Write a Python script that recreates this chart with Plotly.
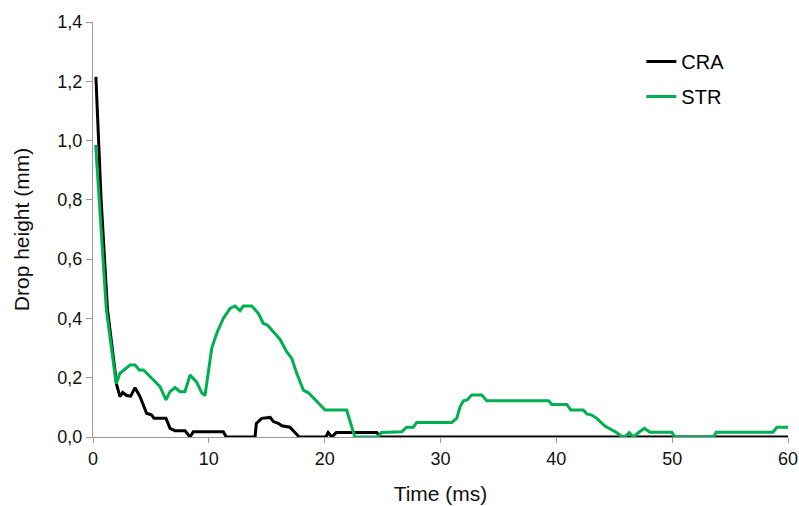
import plotly.graph_objects as go

# CRA series (time in ms, drop height in mm)
cra_t = [0.25, 0.7, 1.25, 2.05, 2.33, 2.56, 2.9, 3.25, 3.63, 4.06, 4.63, 5.07, 5.27, 6.3, 6.65, 7.08, 7.94,
         8.2, 8.38, 8.66, 11.25, 11.5, 13.99, 14.1, 14.57, 15.3, 15.57, 16.0, 16.3, 17.0, 17.6, 17.8,
         20.1, 20.3, 20.6, 21.0, 24.5, 24.8, 60.0]
cra_h = [1.215, 0.8, 0.43, 0.175, 0.136, 0.15, 0.14, 0.138, 0.166, 0.136, 0.08, 0.074, 0.063, 0.063, 0.029, 0.021, 0.021,
         0.01, 0.0, 0.018, 0.018, 0.0, 0.0, 0.046, 0.063, 0.066, 0.052, 0.046, 0.038, 0.033, 0.007, 0.0,
         0.0, 0.015, 0.0, 0.015, 0.015, 0.0, 0.0]

# STR series
str_t = [0.23, 0.7, 1.15, 2.0, 2.33, 3.2, 3.63, 4.0, 4.35, 5.07, 5.79, 6.3, 6.65, 7.08, 7.51, 7.94, 8.38, 8.95,
         9.38, 9.67, 9.96, 10.25, 10.68, 11.25, 11.83, 12.26, 12.69, 12.98, 13.7, 14.28, 14.7, 15.05, 15.57,
         16.15, 16.72, 17.16, 17.59, 18.16, 18.6, 19.3, 20.03, 21.9, 22.48, 22.6, 24.6, 24.9, 26.66, 27.08,
         27.66, 27.95, 30.97, 31.4, 31.69, 31.98, 32.3, 32.7, 33.56, 33.99, 39.32, 39.61, 40.9, 41.25, 42.34,
         42.63, 43.06, 43.49, 44.2, 44.8, 45.2, 45.6, 45.9, 46.3, 46.66, 47.1, 47.6, 48.1, 49.97, 50.26,
         53.57, 53.8, 58.7, 59.04, 60.0]
str_h = [0.985, 0.68, 0.43, 0.18, 0.215, 0.243, 0.243, 0.226, 0.226, 0.198, 0.17, 0.125, 0.153, 0.167, 0.153, 0.153, 0.209, 0.185,
         0.15, 0.14, 0.215, 0.299, 0.35, 0.4, 0.434, 0.442, 0.426, 0.442, 0.442, 0.417, 0.383, 0.378, 0.355,
         0.329, 0.288, 0.265, 0.215, 0.158, 0.149, 0.119, 0.091, 0.091, 0.012, 0.0, 0.0, 0.015, 0.018, 0.033,
         0.033, 0.049, 0.049, 0.063, 0.102, 0.122, 0.125, 0.142, 0.142, 0.122, 0.122, 0.110, 0.110, 0.091, 0.091,
         0.078, 0.074, 0.063, 0.037, 0.024, 0.015, 0.003, 0.0, 0.015, 0.0, 0.015, 0.029, 0.016, 0.016, 0.0,
         0.0, 0.016, 0.016, 0.033, 0.033]

x_ticks = [0, 10, 20, 30, 40, 50, 60]
y_ticks = [0.0, 0.2, 0.4, 0.6, 0.8, 1.0, 1.2, 1.4]

FONT = "Liberation Sans, Arial, sans-serif"
AX = "#9a9a9a"

fig = go.Figure()
fig.add_trace(go.Scatter(x=cra_t, y=cra_h, mode="lines", name="CRA", legendgroup="a",
                         line=dict(color="#000000", width=3), cliponaxis=False))
fig.add_trace(go.Scatter(x=str_t, y=str_h, mode="lines", name="STR", legendgroup="b",
                         line=dict(color="#00B050", width=3), cliponaxis=False))

fig.update_layout(
    width=799, height=506,
    margin=dict(l=93, r=11, t=22, b=69, autoexpand=False),
    paper_bgcolor="white", plot_bgcolor="white",
    separators=", ",
    font=dict(family=FONT, size=18, color="#111"),
    showlegend=True,
    legend=dict(x=0.789, y=0.952, xanchor="left", yanchor="top",
                font=dict(family=FONT, size=20, color="#000"),
                traceorder="grouped", tracegroupgap=6,
                bgcolor="rgba(0,0,0,0)"),
    xaxis=dict(range=[0, 60], tickvals=x_ticks, ticks="outside", ticklen=5, tickcolor=AX,
               showline=True, linecolor=AX, linewidth=1, showgrid=False, zeroline=False,
               tickfont=dict(size=18), automargin=False,
               title=dict(text="Time (ms)", font=dict(size=21), standoff=18)),
    yaxis=dict(range=[0, 1.4], tickvals=y_ticks, tickformat=".1f", ticks="outside", ticklen=6, tickcolor=AX,
               showline=True, linecolor=AX, linewidth=1, showgrid=False, zeroline=False,
               tickfont=dict(size=18), automargin=False,
               title=dict(text="Drop height (mm)", font=dict(size=21), standoff=22)),
)

fig.write_html("out.html")
